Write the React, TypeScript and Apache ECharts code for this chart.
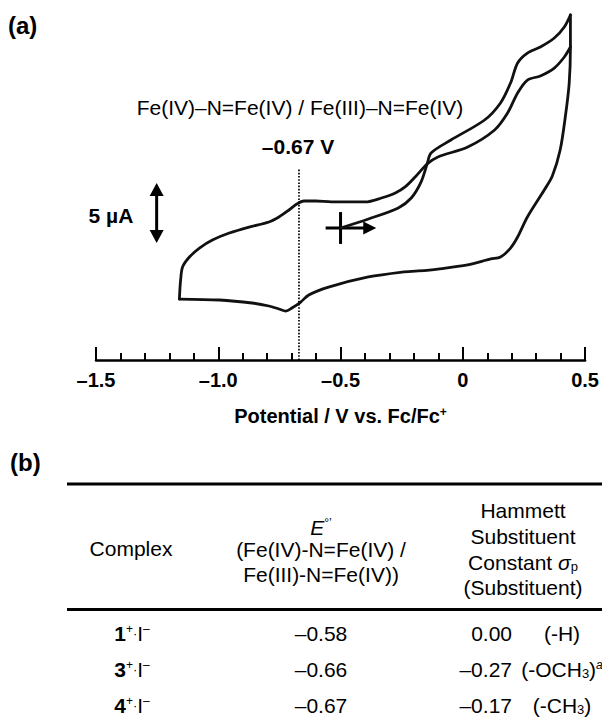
import React, { useEffect, useRef } from "react";
import * as echarts from "echarts";

const FONT = "'Liberation Sans', Arial, Helvetica, sans-serif";

// ---- Data (potential V vs Fc/Fc+, current µA) ----
const firstAnodicScan: [number, number][] = [
  [-0.5, 11.0], [-0.386, 11.75], [-0.264, 12.67], [-0.211, 13.5], [-0.171, 14.83],
  [-0.146, 16.33], [-0.13, 17.25], [-0.049, 18.33], [0.089, 20.0], [0.154, 21.42],
  [0.195, 23.08], [0.224, 24.75], [0.264, 25.58], [0.317, 26.08], [0.374, 26.83],
  [0.415, 27.75], [0.44, 28.75],
];
const cathodicScan: [number, number][] = [
  [0.44, 28.75], [0.44, 26.08], [0.435, 23.08], [0.419, 20.25], [0.398, 17.5],
  [0.366, 15.33], [0.333, 14.17], [0.264, 11.92], [0.224, 10.25], [0.195, 9.33],
  [0.154, 8.58], [0.114, 8.42], [0.02, 7.92], [-0.102, 7.58], [-0.183, 7.42],
  [-0.248, 7.33], [-0.386, 6.92], [-0.549, 6.08], [-0.63, 5.42], [-0.663, 4.83],
  [-0.699, 4.33], [-0.724, 4.08], [-0.752, 4.25], [-0.793, 4.5], [-0.862, 4.75],
  [-0.996, 5.0], [-1.159, 5.08],
];
const secondAnodicScan: [number, number][] = [
  [-1.159, 5.08], [-1.154, 6.67], [-1.146, 7.75], [-1.118, 8.58], [-1.077, 9.33],
  [-1.024, 10.0], [-0.955, 10.58], [-0.874, 11.08], [-0.793, 11.5], [-0.752, 11.92],
  [-0.711, 12.5], [-0.679, 13.0], [-0.65, 13.25], [-0.602, 13.25], [-0.537, 13.17],
  [-0.398, 13.17], [-0.333, 13.5], [-0.276, 13.92], [-0.236, 14.42], [-0.195, 15.25],
  [-0.146, 16.33], [-0.102, 16.92], [0.02, 17.75], [0.13, 19.17], [0.183, 20.58],
  [0.224, 22.25], [0.264, 23.33], [0.317, 23.67], [0.374, 24.33], [0.415, 25.25],
  [0.44, 26.08],
];
const redoxPotential = -0.67;
const redoxMarkerTop = 16;
const startPoint: [number, number] = [-0.5, 11.0];
const scaleBarPotential = -1.252;
const scaleBarLow = 9.75;
const scaleBarSpan = 5; // µA

const xTicks = [-1.5, -1.0, -0.5, 0, 0.5];

// ---- Table data ----
const complexIds = ["1", "3", "4"];
const ePotentials = ["–0.58", "–0.66", "–0.67"];
const sigmaValues = ["0.00", "–0.27", "–0.17"];
const substituents = ["-H", "-OCH3", "-CH3"];
const footnotes = ["", "a", ""];

function fmtTick(v: number): string {
  if (Math.abs(v) < 1e-9) return "0";
  return (v < 0 ? "–" : "") + Math.abs(v).toFixed(1);
}

function txt(x: number, y: number, text: string, extra: any = {}) {
  const align = extra.align || "center";
  return {
    type: "text",
    x,
    y,
    silent: true,
    style: {
      text,
      fill: "#000",
      fontFamily: FONT,
      fontSize: 21,
      fontWeight: "normal",
      align,
      textAlign: align,
      verticalAlign: "middle",
      textVerticalAlign: "middle",
      ...extra,
    },
  };
}

const richBase = {
  n: { fontSize: 21, fontFamily: FONT, fill: "#000" },
  b: { fontSize: 21, fontFamily: FONT, fontWeight: "bold", fill: "#000" },
  i: { fontSize: 21, fontFamily: FONT, fontStyle: "italic", fill: "#000" },
  sup: { fontSize: 12, fontFamily: FONT, fill: "#000", verticalAlign: "top" },
  supi: { fontSize: 12, fontFamily: FONT, fontStyle: "italic", fill: "#000", verticalAlign: "top" },
  sub: { fontSize: 13, fontFamily: FONT, fill: "#000", verticalAlign: "bottom" },
  dot: { fontSize: 13, fontFamily: FONT, fill: "#000" },
};

function subText(s: string) {
  return s.replace(/(\d)/g, "{sub|$1}");
}

function buildTable() {
  const els: any[] = [];
  els.push({ type: "rect", silent: true, shape: { x: 67, y: 482.5, width: 540, height: 3 }, style: { fill: "#000" } });
  els.push({ type: "rect", silent: true, shape: { x: 67, y: 608, width: 540, height: 3 }, style: { fill: "#000" } });
  els.push(txt(131, 548, "Complex"));
  els.push(txt(321, 527, "{i|E}{sup|°’}", { rich: richBase }));
  els.push(txt(321, 549, "(Fe(IV)-N=Fe(IV) /"));
  els.push(txt(321, 574, "Fe(III)-N=Fe(IV))"));
  els.push(txt(523, 510, "Hammett"));
  els.push(txt(523, 536, "Substituent"));
  els.push(txt(523, 562, "Constant {i|σ}{sub|p}", { rich: richBase }));
  els.push(txt(523, 587, "(Substituent)"));
  const rowY0 = 633;
  const rowStep = 36;
  complexIds.forEach((id, k) => {
    const y = rowY0 + k * rowStep;
    els.push(txt(132, y, `{b|${id}}{sup|+}{dot|·}{n|I}{sup|–}`, { rich: richBase }));
    els.push(txt(321, y, ePotentials[k]));
    els.push(txt(512, y, sigmaValues[k], { align: "right" }));
    const fn = footnotes[k] ? `{supi|${footnotes[k]}}` : "";
    els.push(txt(562, y, `(${subText(substituents[k])})${fn}`, { rich: richBase }));
  });
  return els;
}

export default function App() {
  const ref = useRef<HTMLDivElement>(null);
  useEffect(() => {
    const chart = echarts.init(ref.current!, null, { renderer: "svg" });
    const lineStyle = { color: "#111", width: 2.8, cap: "round", join: "round" };
    const option: any = {
      animation: false,
      backgroundColor: "#fff",
      textStyle: { fontFamily: FONT },
      grid: { left: 96, right: 14, top: 0, bottom: 364, containLabel: false },
      xAxis: {
        type: "value",
        min: -1.5,
        max: 0.5,
        interval: 0.5,
        name: "Potential / V vs. Fc/Fc{sup|+}",
        nameLocation: "middle",
        nameGap: 46,
        nameTextStyle: {
          fontSize: 20,
          fontWeight: "bold",
          color: "#000",
          fontFamily: FONT,
          rich: { sup: { fontSize: 12, fontWeight: "bold", color: "#000", fontFamily: FONT, verticalAlign: "top" } },
        },
        axisLine: { show: true, onZero: false, lineStyle: { color: "#000", width: 2.5 } },
        axisTick: { show: true, inside: true, length: 13, lineStyle: { color: "#000", width: 2 } },
        minorTick: { show: true, splitNumber: 5, length: 7, lineStyle: { color: "#000", width: 2 } },
        splitLine: { show: false },
        axisLabel: {
          margin: 10,
          fontSize: 20,
          fontWeight: "bold",
          color: "#000",
          fontFamily: FONT,
          formatter: (v: number) => (xTicks.some((t) => Math.abs(t - v) < 1e-9) ? fmtTick(v) : ""),
        },
      },
      yAxis: { type: "value", min: 0, max: 30, show: false },
      series: [
        { type: "line", data: firstAnodicScan, smooth: 0.3, symbol: "none", lineStyle, silent: true },
        { type: "line", data: cathodicScan, smooth: 0.3, symbol: "none", lineStyle, silent: true },
        { type: "line", data: secondAnodicScan, smooth: 0.3, symbol: "none", lineStyle, silent: true },
        {
          type: "line",
          data: [[redoxPotential, 0], [redoxPotential, redoxMarkerTop]],
          symbol: "none",
          silent: true,
          lineStyle: { color: "#000", width: 1.7, type: [1.6, 1.6] },
        },
        {
          type: "custom",
          silent: true,
          data: [startPoint],
          renderItem: (_p: any, api: any) => {
            const [bx, byLow] = api.coord([scaleBarPotential, scaleBarLow]);
            const [, byHigh] = api.coord([scaleBarPotential, scaleBarLow + scaleBarSpan]);
            const [cx, cy] = api.coord(startPoint);
            const [, cTop] = api.coord([startPoint[0], startPoint[1] + 1.33]);
            const [, cBot] = api.coord([startPoint[0], startPoint[1] - 1.33]);
            const [hx0] = api.coord([-0.561, startPoint[1]]);
            const [hx1] = api.coord([-0.354, startPoint[1]]);
            const head = 13;
            const hw = 7;
            const black = { fill: "#000" };
            return {
              type: "group",
              children: [
                { type: "line", shape: { x1: bx, y1: byHigh + head - 2, x2: bx, y2: byLow - head + 2 }, style: { stroke: "#000", lineWidth: 3 } },
                { type: "polygon", shape: { points: [[bx, byHigh], [bx - hw, byHigh + head], [bx + hw, byHigh + head]] }, style: black },
                { type: "polygon", shape: { points: [[bx, byLow], [bx - hw, byLow - head], [bx + hw, byLow - head]] }, style: black },
                { type: "line", shape: { x1: cx, y1: cTop, x2: cx, y2: cBot }, style: { stroke: "#000", lineWidth: 3 } },
                { type: "line", shape: { x1: hx0, y1: cy, x2: hx1 - 11, y2: cy }, style: { stroke: "#000", lineWidth: 3 } },
                { type: "polygon", shape: { points: [[hx1, cy], [hx1 - 13, cy - 6.5], [hx1 - 13, cy + 6.5]] }, style: black },
              ],
            };
          },
        },
      ],
      graphic: [
        txt(8, 25, "(a)", { align: "left", fontWeight: "bold", fontSize: 24 }),
        txt(300, 107, "Fe(IV)–N=Fe(IV) / Fe(III)–N=Fe(IV)"),
        txt(298, 146, "–0.67 V", { fontWeight: "bold" }),
        txt(111, 215, "5 µA", { fontWeight: "bold" }),
        txt(10, 462, "(b)", { align: "left", fontWeight: "bold", fontSize: 24 }),
        ...buildTable(),
      ],
    };
    chart.setOption(option);
    return () => chart.dispose();
  }, []);
  return (
    <div
      ref={ref}
      style={{ position: "absolute", left: 0, top: 0, width: 602, height: 724, background: "#fff" }}
    />
  );
}
